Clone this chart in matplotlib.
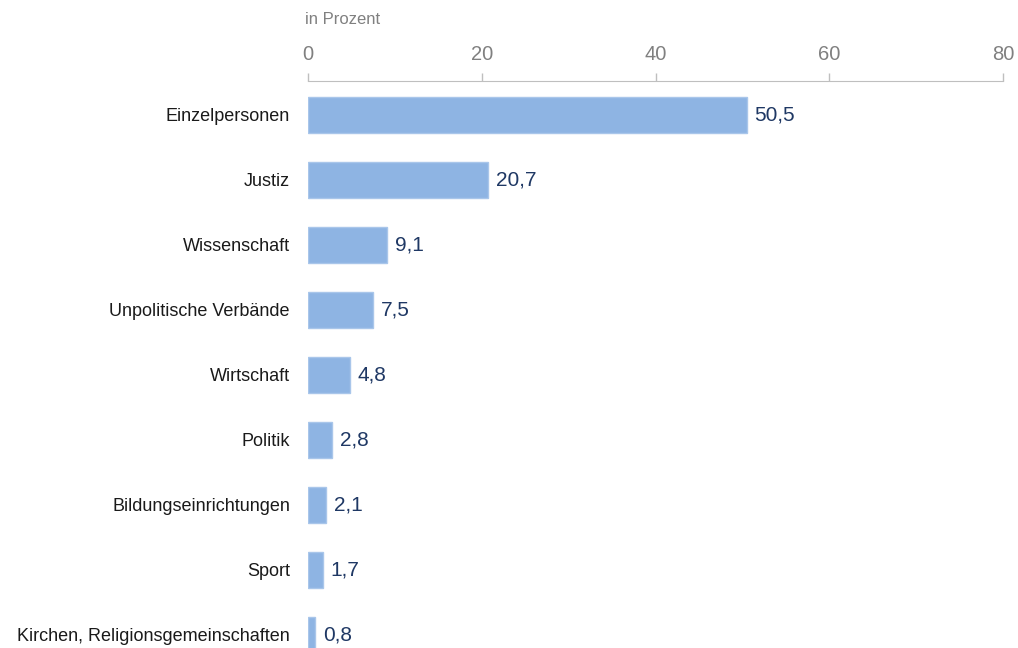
import matplotlib.pyplot as plt

categories = ["Einzelpersonen", "Justiz", "Wissenschaft", "Unpolitische Verbände",
              "Wirtschaft", "Politik", "Bildungseinrichtungen", "Sport",
              "Kirchen, Religionsgemeinschaften"]
values = [50.5, 20.7, 9.1, 7.5, 4.8, 2.8, 2.1, 1.7, 0.8]
ticks = [0, 20, 40, 60, 80]

plt.rcParams['font.family'] = ['Liberation Sans', 'DejaVu Sans']

fig = plt.figure(figsize=(10.18, 6.48), dpi=100)
ax = fig.add_axes([308 / 1018, 0, 695 / 1018, 1 - 81 / 648])

y = list(range(len(categories)))
ax.barh(y, values, height=0.54, color='#8eb4e3', edgecolor='#a9c6ea', linewidth=1)

for yi, v in zip(y, values):
    ax.text(v + 0.9, yi, f"{v:.1f}".replace('.', ','), va='center', ha='left',
            fontsize=15, color='#1f3864')

ax.set_xlim(0, 80)
ax.set_ylim(8.2, -0.523)
ax.set_xticks(ticks)
ax.xaxis.tick_top()
ax.tick_params(axis='x', colors='#bfbfbf', labelcolor='#808080', labelsize=14.5,
               length=6, width=1, pad=6)
ax.set_yticks(y)
ax.set_yticklabels(categories, fontsize=13, color='#1a1a1a')
ax.tick_params(axis='y', length=0, pad=13)

for s in ['bottom', 'left', 'right']:
    ax.spines[s].set_visible(False)
ax.spines['top'].set_color('#bfbfbf')

fig.text(305 / 1018, 1 - 19 / 648, "in Prozent", fontsize=12, color='#808080',
         ha='left', va='center')

plt.savefig('out.png', dpi=100)
